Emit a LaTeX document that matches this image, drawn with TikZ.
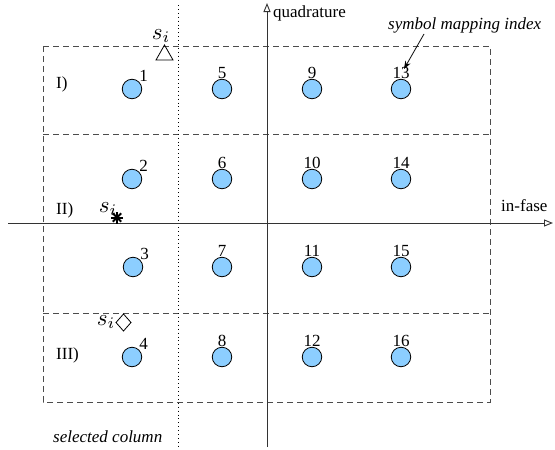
\documentclass[tikz,border=0pt]{standalone}
\usepackage{graphicx}
\usepackage{fontspec}
\setmainfont{Liberation Serif}
\usetikzlibrary{arrows.meta,calc}
\definecolor{ptfill}{RGB}{140,206,255}
\newcommand{\sii}{\scalebox{2.3}{$s_i$}}
\begin{document}
\begin{tikzpicture}[x=1pt,y=-1pt,
  every node/.style={font=\fontsize{17}{20}\selectfont},
  pt/.style={circle,draw=black,fill=ptfill,line width=0.8pt,minimum size=19.5pt,inner sep=0pt},
  lbl/.style={inner sep=0pt,font=\fontsize{17}{20}\selectfont},
  box/.style={draw=black!70,dash pattern=on 6pt off 4pt,line width=0.8pt},
  axis/.style={draw=black!80,line width=0.9pt,-{Triangle[open,length=9pt,width=7pt]}},
  dotline/.style={draw=black,line width=0.9pt,dash pattern=on 0.9pt off 3pt},
  marker/.style={draw=black,line width=0.8pt},
  txt/.style={inner sep=0pt,font=\fontsize{17}{20}\selectfont},
  mathtxt/.style={inner sep=0pt,font=\normalsize,anchor=base},
 ]
\useasboundingbox (0,0) rectangle (555,450);
% dashed boxes
\coordinate (b1) at (43,46);
\coordinate (b2) at (490,46);
\coordinate (b3) at (490,402);
\coordinate (b4) at (43,402);
\draw[box] (b1) -- (b2) -- (b3) -- (b4) -- cycle;
\draw[box] (43,134) -- (490,134);
\draw[box] (43,313) -- (490,313);
% selected column (dotted)
\coordinate (d1) at (178,5);
\coordinate (d2) at (178,447);
\draw[dotline] (d1) -- (d2);
% axes
\coordinate (xa) at (8,223);
\coordinate (xb) at (553,223);
\coordinate (ya) at (267,447);
\coordinate (yb) at (267,3);
\draw[axis] (xa) -- (xb);
\draw[axis] (ya) -- (yb);
\node[txt,anchor=west] (quad) at (273,13) {quadrature};
\node[txt,anchor=west] (infase) at (501,206) {in-fase};
% constellation points
\foreach \n/\x/\y in {1/132/89,2/132/179,3/133/267,4/132/357}{
  \node[pt,label={[lbl,name=l\n]45:\n}] (c\n) at (\x,\y) {};
}
\foreach \n/\x/\y in {5/222/89,6/222/179,7/222/267,8/222/357,
                       9/312/89,10/312/179,11/312/267,12/312/357,
                       13/401/89,14/401/179,15/401/267,16/401/357}{
  \node[pt,label={[lbl,name=l\n]above:\n}] (c\n) at (\x,\y) {};
}
% region labels
\node[txt,anchor=west] (r1) at (56,84) {I)};
\node[txt,anchor=west] (r2) at (56,210) {II)};
\node[txt,anchor=west] (r3) at (56,355) {III)};
% symbol mapping index
\node[txt,anchor=west,font=\fontsize{17}{20}\selectfont\itshape] (smi) at (388,25) {symbol mapping index};
\coordinate (sa) at (424,34);
\coordinate (sb) at (404,69);
\draw[line width=0.8pt,-{Stealth[length=8pt,width=6pt]}] (sa) -- (sb);
% selected column label
\node[txt,anchor=west,font=\fontsize{17}{20}\selectfont\itshape] (selc) at (53,437) {selected column};
% markers
\draw[marker] (156,60) -- (173,60) -- (164.5,45) -- cycle;
\node[mathtxt] (s1) at (161,39) {\sii};
\foreach \a in {0,45,90,135}{
  \draw[line width=2pt] ($(117,217.5)+(\a:6)$) -- ($(117,217.5)+(\a+180:6)$);
}
\node[mathtxt] (s2) at (108,212) {\sii};
\node[mathtxt] (s3) at (106,325) {\sii};
\draw[marker] (116,322.5) -- (123.5,314) -- (131,322.5) -- (123.5,331) -- cycle;
\end{tikzpicture}
\end{document}
